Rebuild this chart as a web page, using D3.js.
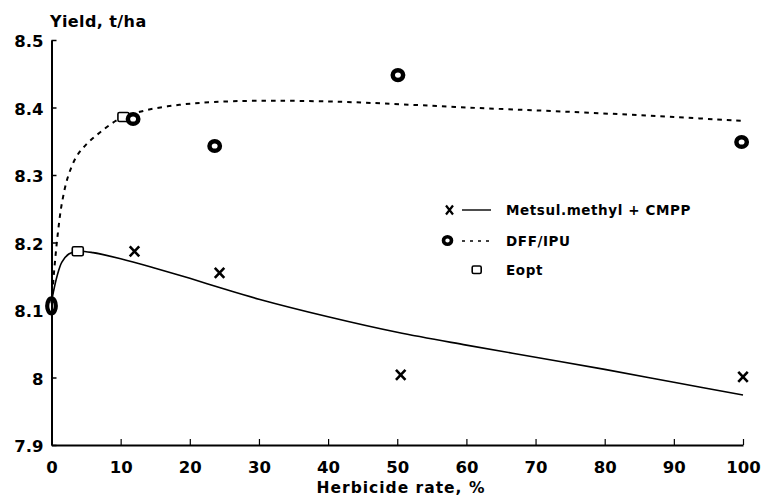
<!DOCTYPE html>
<html><head><meta charset="utf-8">
<script src="https://cdn.jsdelivr.net/npm/d3@7"></script>
<style>
body{margin:0;background:#fff}
text{font-family:"DejaVu Sans",sans-serif;font-weight:bold;fill:#000}
</style></head>
<body><svg id="c" width="761" height="496"></svg>
<script>
// ---- data ----
const xTicks = [0,10,20,30,40,50,60,70,80,90,100];
const xTickLabels = ["0","10","20","30","40","50","60","70","80","90","100"];
const yTicks = [7.9,8.0,8.1,8.2,8.3,8.4,8.5];
const yTickLabels = ["7.9","8","8.1","8.2","8.3","8.4","8.5"];

const metsulRate = [12, 24.3, 50.5, 100];
const metsulYield = [8.187, 8.155, 8.004, 8.001];
const dffRate = [0, 11.8, 23.6, 50.1, 99.8];
const dffYield = [8.106, 8.383, 8.343, 8.448, 8.349];
const eoptRate = [3.8, 10.4];
const eoptYield = [8.187, 8.386];

const metsulCurveRate = [0, 0.3, 0.8, 1.5, 2.5, 3.8, 6, 10, 15, 20, 25, 30, 40, 50, 60, 70, 80, 90, 100];
const metsulCurveYield = [8.112, 8.128, 8.15, 8.171, 8.183, 8.187, 8.185, 8.176, 8.162, 8.147, 8.131, 8.116, 8.09, 8.067, 8.048, 8.03, 8.012, 7.993, 7.974];
const dffCurveRate = [0, 0.4, 0.9, 1.5, 2.4, 3.6, 5, 7, 9.8, 13.7, 18.5, 23.3, 30, 40, 48, 60, 74, 90, 100];
const dffCurveYield = [8.11, 8.16, 8.212, 8.258, 8.298, 8.327, 8.345, 8.363, 8.383, 8.396, 8.404, 8.408, 8.41, 8.409, 8.406, 8.4, 8.394, 8.386, 8.38];

const legendLabels = ["Metsul.methyl + CMPP", "DFF/IPU", "Eopt"];

// ---- chart ----
const svg = d3.select("#c");
const x = d3.scaleLinear().domain([0,100]).range([51.5,743]);
const y = d3.scaleLinear().domain([7.9,8.5]).range([445,40]);

const xAxis = d3.axisBottom(x).tickValues(xTicks).tickFormat((d,i)=>xTickLabels[i])
  .tickSizeInner(-6).tickSizeOuter(0).tickPadding(16.5);
const gx = svg.append("g").attr("transform","translate(0,445)").call(xAxis);
gx.select(".domain").attr("stroke-width",2);
gx.selectAll(".tick line").attr("stroke-width",1.2);
gx.selectAll("text").style("font-size","16.5px").attr("fill","#000");

const yAxis = d3.axisLeft(y).tickValues(yTicks).tickFormat((d,i)=>yTickLabels[i])
  .tickSizeInner(-5).tickSizeOuter(0).tickPadding(8);
const gy = svg.append("g").attr("transform","translate(51.5,0)").call(yAxis);
gy.select(".domain").attr("stroke-width",2);
gy.selectAll(".tick line").attr("stroke-width",1.5);
gy.selectAll("text").style("font-size","16.5px").attr("dy","0.42em").attr("fill","#000");

svg.append("text").attr("x",50).attr("y",27).style("font-size","16px").style("letter-spacing","0.4px").text("Yield, t/ha");
svg.append("text").attr("x",401).attr("y",492.5).attr("text-anchor","middle").style("font-size","15.5px").style("letter-spacing","1px").text("Herbicide rate, %");

const line = d3.line().x(d=>x(d[0])).y(d=>y(d[1])).curve(d3.curveCatmullRom.alpha(0.5));
svg.append("path").attr("d", line(metsulCurveRate.map((r,i)=>[r,metsulCurveYield[i]])))
  .attr("fill","none").attr("stroke","#000").attr("stroke-width",1.6);
svg.append("path").attr("d", line(dffCurveRate.map((r,i)=>[r,dffCurveYield[i]])))
  .attr("fill","none").attr("stroke","#000").attr("stroke-width",2).attr("stroke-dasharray","4.5,5");

function xMark(g, cx, cy, w, h, sw){
  g.append("path").attr("d",`M${cx-w/2},${cy-h/2}L${cx+w/2},${cy+h/2}M${cx+w/2},${cy-h/2}L${cx-w/2},${cy+h/2}`)
   .attr("stroke","#000").attr("stroke-width",sw).attr("fill","none");
}
function oMark(g, cx, cy, rx, ry, sw){
  g.append("ellipse").attr("cx",cx).attr("cy",cy).attr("rx",rx).attr("ry",ry)
   .attr("fill","none").attr("stroke","#000").attr("stroke-width",sw);
}
function sqMark(g, cx, cy, w, h){
  g.append("rect").attr("x",cx-w/2).attr("y",cy-h/2).attr("width",w).attr("height",h).attr("rx",1.5)
   .attr("fill","#fff").attr("stroke","#000").attr("stroke-width",1.6);
}

const gm = svg.append("g");
eoptRate.forEach((r,i)=>sqMark(gm, x(r), y(eoptYield[i]), 11, 9));
metsulRate.forEach((r,i)=>xMark(gm, x(r), y(metsulYield[i]), 9.5, 10, 2.6));
dffRate.forEach((r,i)=>{
  if(i===0) oMark(gm, x(r), y(dffYield[i]), 4.3, 7.5, 4.2);
  else oMark(gm, x(r), y(dffYield[i]), 5.2, 4.8, 4.5);
});

// legend
const lg = svg.append("g");
xMark(lg, 449.5, 210, 7, 9, 2.2);
lg.append("line").attr("x1",462).attr("x2",491).attr("y1",210).attr("y2",210).attr("stroke","#000").attr("stroke-width",1.4);
oMark(lg, 447.5, 240.5, 4, 3.8, 3.6);
lg.append("line").attr("x1",462).attr("x2",491).attr("y1",241).attr("y2",241).attr("stroke","#000").attr("stroke-width",1.6).attr("stroke-dasharray","3,5");
sqMark(lg, 476.7, 269.7, 9, 7.5);
[215,246,275].forEach((by,i)=>{
  lg.append("text").attr("x",506).attr("y",by).style("font-size","13.5px").style("letter-spacing","0.6px").text(legendLabels[i]);
});
</script></body></html>
